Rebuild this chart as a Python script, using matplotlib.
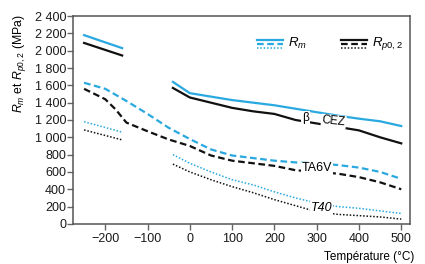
import matplotlib
matplotlib.use("Agg")
import matplotlib.pyplot as plt

plt.rcParams['font.family'] = ['Liberation Sans', 'DejaVu Sans']
plt.rcParams['mathtext.fontset'] = 'custom'
plt.rcParams['mathtext.it'] = 'Liberation Sans:italic'
plt.rcParams['mathtext.rm'] = 'Liberation Sans'

# data (MPa vs degC)
temp_low = [-250, -160]
bcez_rm_low = [2180, 2030]
bcez_rp_low = [2090, 1945]
t40_rm_low = [1180, 1060]
t40_rp_low = [1085, 970]

temp_high = [-40, 0, 50, 100, 150, 200, 250, 300, 350, 400, 450, 500]
bcez_rm_high = [1640, 1510, 1470, 1430, 1400, 1370, 1330, 1290, 1250, 1215, 1185, 1130]
bcez_rp_high = [1570, 1460, 1400, 1340, 1300, 1270, 1200, 1160, 1120, 1080, 1000, 930]
t40_rm_high = [800, 700, 600, 510, 450, 370, 300, 240, 200, 180, 150, 120]
t40_rp_high = [690, 600, 510, 430, 360, 280, 210, 140, 110, 95, 80, 55]

temp_ta6v = [-250, -200, -175, -150, -100, -50, 0, 50, 100, 150, 200, 250, 300, 350, 400, 450, 500]
ta6v_rm = [1630, 1560, 1490, 1420, 1270, 1110, 980, 860, 790, 760, 730, 710, 700, 680, 650, 600, 520]
ta6v_rp = [1560, 1440, 1320, 1170, 1070, 975, 900, 790, 730, 700, 670, 620, 600, 580, 540, 480, 400]

xticks = [-200, -100, 0, 100, 200, 300, 400, 500]
yticks = [0, 200, 400, 600, 800, 1000, 1200, 1400, 1600, 1800, 2000, 2200, 2400]

blue = '#2aa9e0'
black = '#111111'

fig = plt.figure(figsize=(4.25, 2.64), dpi=100)
ax = fig.add_axes([0.172, 0.152, 0.793, 0.787])

solid = dict(lw=1.6)
dashed = dict(lw=1.6, ls=(0, (3, 1.6)))
dotted = dict(lw=1.1, ls=(0, (1, 1.2)))

for t, rm, rp in [(temp_low, bcez_rm_low, bcez_rp_low), (temp_high, bcez_rm_high, bcez_rp_high)]:
    ax.plot(t, rm, color=blue, **solid)
    ax.plot(t, rp, color=black, **solid)
ax.plot(temp_ta6v, ta6v_rm, color=blue, **dashed)
ax.plot(temp_ta6v, ta6v_rp, color=black, **dashed)
for t, rm, rp in [(temp_low, t40_rm_low, t40_rp_low), (temp_high, t40_rm_high, t40_rp_high)]:
    ax.plot(t, rm, color=blue, **dotted)
    ax.plot(t, rp, color=black, **dotted)

# alloy labels, white box breaks the lines like the original
box = dict(facecolor='white', edgecolor='none', pad=0.6)
ax.text(273, 1225, 'β', fontsize=8.5, ha='center', va='center', bbox=box, zorder=5)
ax.text(340, 1180, 'CEZ', fontsize=8.5, ha='center', va='center', rotation=-6, bbox=box, zorder=5)
ax.text(300, 640, 'TA6V', fontsize=9, ha='center', va='center', bbox=box, zorder=5)
ax.text(312, 185, 'T40', fontsize=9, ha='center', va='center', style='italic', bbox=box, zorder=5)

# legend (stacked solid / dashed / dotted samples)
for x0, x1, c, lab, xt in [(0.546, 0.622, blue, '$R_m$', 0.638), (0.795, 0.872, black, '$R_{p0,2}$', 0.887)]:
    ax.plot([x0, x1], [0.885, 0.885], color=c, transform=ax.transAxes, **solid)
    ax.plot([x0, x1], [0.867, 0.867], color=c, transform=ax.transAxes, **dashed)
    ax.plot([x0, x1], [0.848, 0.848], color=c, transform=ax.transAxes, **dotted)
    ax.text(xt, 0.867, lab, fontsize=9.5, ha='left', va='center', transform=ax.transAxes)

ax.set_xlim(-276, 521)
ax.set_ylim(0, 2400)
ax.set_xticks(xticks)
ax.set_xticklabels([str(v).replace('-', '\u2212') for v in xticks])
ax.set_yticks(yticks)
ax.set_yticklabels([f'{v:,}'.replace(',', ' ') for v in yticks])
ax.tick_params(direction='out', length=4.3, width=1, color='#666666', labelsize=9,
               labelcolor='#1a1a1a')
ax.tick_params(axis='y', pad=0.8)
ax.tick_params(axis='x', pad=2)
for s in ax.spines.values():
    s.set_color('#555555')
    s.set_linewidth(1.1)

ax.set_ylabel('$R_m$ et $R_{p0,2}$ (MPa)', fontsize=8.8)
ax.yaxis.set_label_coords(-0.135, 0.77)
fig.text(0.974, 0.025, 'Température (°C)', fontsize=8.5, ha='right', va='center')

fig.savefig('out.png', dpi=100)
